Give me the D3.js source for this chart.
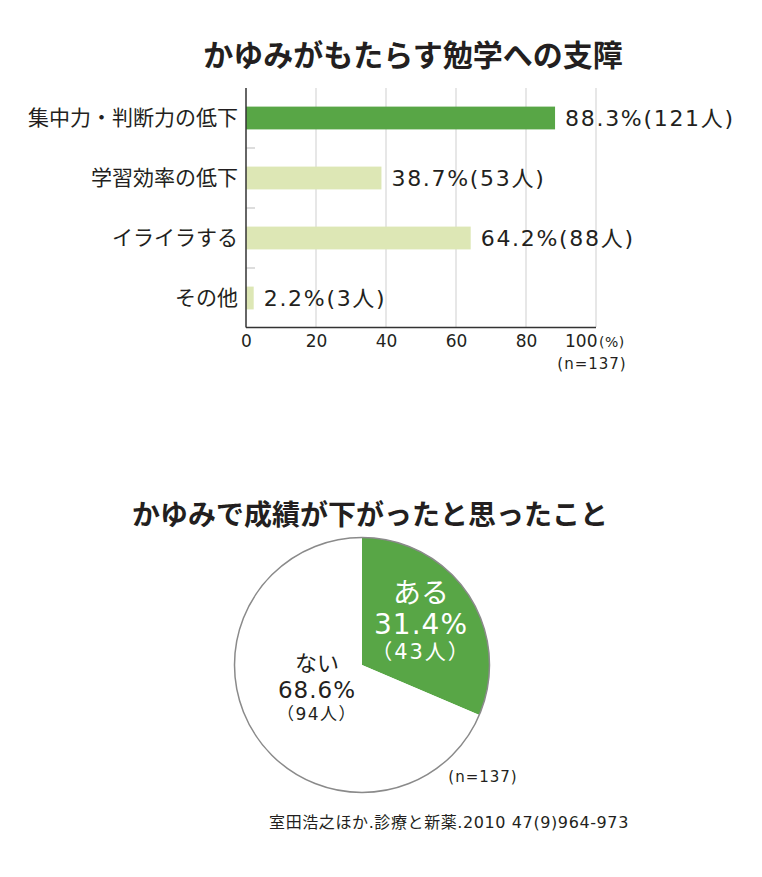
<!DOCTYPE html>
<html>
<head>
<meta charset="utf-8">
<script src="https://cdn.jsdelivr.net/npm/d3@7"></script>
<style>
  html, body { margin: 0; padding: 0; background: #fff; }
  svg text { font-family: "Noto Sans CJK JP", "Noto Sans", sans-serif; fill: #231f20; }
  svg text.num { font-family: "DejaVu Sans", "Noto Sans CJK JP", sans-serif; }
  .title { font-weight: 700; }
  .axis .domain { display: none; }
</style>
</head>
<body>
<svg id="chart" width="762" height="877"></svg>
<script>
// bar chart data
var categories = ["集中力・判断力の低下", "学習効率の低下", "イライラする", "その他"];
var percents = [88.3, 38.7, 64.2, 2.2];
var counts = [121, 53, 88, 3];
var xTicks = [0, 20, 40, 60, 80, 100];

// pie chart data
var pieLabels = ["ある", "ない"];
var piePercents = [31.4, 68.6];
var pieCounts = [43, 94];

var sampleSize = 137;
var source = "室田浩之ほか.診療と新薬.2010 47(9)964-973";

var green = "#58a646",
    lightGreen = "#dde7b5",
    ink = "#231f20";

var svg = d3.select("#chart");

/**
 * Bar chart
 */
var x = d3.scaleLinear().domain([0, 100]).range([246, 596]);
var y = d3.scaleBand().domain(categories).range([88, 328])
    .paddingInner(0.62).paddingOuter(0.31);

svg.append("text")
    .attr("class", "title")
    .attr("x", 413)
    .attr("y", 66)
    .attr("text-anchor", "middle")
    .attr("font-size", 30)
    .text("かゆみがもたらす勉学への支障");

// gridlines
svg.append("g")
    .selectAll("line")
    .data(xTicks.slice(1))
    .join("line")
    .attr("x1", function (d) { return x(d); })
    .attr("x2", function (d) { return x(d); })
    .attr("y1", 88)
    .attr("y2", 327)
    .attr("stroke", "#cfcfcf")
    .attr("stroke-width", 1);

// short separator ticks between categories
svg.append("g")
    .selectAll("line")
    .data(categories.slice(1))
    .join("line")
    .attr("x1", 246)
    .attr("x2", 255)
    .attr("y1", function (d) { return y(d) - y.step() * y.paddingInner() / 2; })
    .attr("y2", function (d) { return y(d) - y.step() * y.paddingInner() / 2; })
    .attr("stroke", "#bbb")
    .attr("stroke-width", 1);

svg.append("g")
    .selectAll("rect")
    .data(categories)
    .join("rect")
    .attr("x", x(0))
    .attr("y", function (d) { return y(d); })
    .attr("width", function (d, i) { return x(percents[i]) - x(0); })
    .attr("height", y.bandwidth())
    .attr("fill", function (d, i) { return i === 0 ? green : lightGreen; });

// axis lines
svg.append("line")
    .attr("x1", x(0)).attr("x2", x(0))
    .attr("y1", 88).attr("y2", 327.5)
    .attr("stroke", "#333").attr("stroke-width", 1.5);
svg.append("line")
    .attr("x1", x(0)).attr("x2", x(100))
    .attr("y1", 327.5).attr("y2", 327.5)
    .attr("stroke", "#333").attr("stroke-width", 1.5);

// category labels
svg.append("g")
    .selectAll("text")
    .data(categories)
    .join("text")
    .attr("x", 238)
    .attr("y", function (d) { return y(d) + y.bandwidth() / 2; })
    .attr("dy", "0.35em")
    .attr("text-anchor", "end")
    .attr("font-size", 21)
    .text(function (d) { return d; });

// value labels
svg.append("g")
    .selectAll("text")
    .data(categories)
    .join("text")
    .attr("class", "num")
    .attr("x", function (d, i) { return x(percents[i]) + 10; })
    .attr("y", function (d) { return y(d) + y.bandwidth() / 2; })
    .attr("dy", "0.36em")
    .attr("font-size", 22)
    .attr("letter-spacing", 1.7)
    .text(function (d, i) { return percents[i].toFixed(1) + "%(" + counts[i] + "人)"; });

// x axis tick labels
var xAxis = d3.axisBottom(x).tickValues(xTicks).tickSize(0).tickPadding(7);
var gx = svg.append("g")
    .attr("class", "axis")
    .attr("transform", "translate(0,328)")
    .call(xAxis);
gx.selectAll("text")
    .attr("class", "num")
    .attr("font-size", 17)
    .attr("fill", ink)
    .style("font-family", '"DejaVu Sans", sans-serif');
// last label sits left of its gridline, leaving room for the unit
gx.selectAll(".tick text")
    .filter(function (d) { return d === 100; })
    .attr("text-anchor", "end")
    .attr("dx", 1);

svg.append("text")
    .attr("class", "num")
    .attr("x", 599)
    .attr("y", 347)
    .attr("font-size", 14)
    .attr("letter-spacing", 0.5)
    .text("(%)");
svg.append("text")
    .attr("class", "num")
    .attr("x", 592)
    .attr("y", 369)
    .attr("text-anchor", "middle")
    .attr("font-size", 15)
    .attr("letter-spacing", 1)
    .text("(n=" + sampleSize + ")");

/**
 * Pie chart
 */
var cx = 362, cy = 665, r = 127.5;

svg.append("text")
    .attr("class", "title")
    .attr("x", 370)
    .attr("y", 525)
    .attr("text-anchor", "middle")
    .attr("font-size", 28)
    .text("かゆみで成績が下がったと思ったこと");

var pie = d3.pie().sort(null).value(function (d) { return d; });
var arc = d3.arc().innerRadius(0).outerRadius(r);
var arcs = pie(piePercents);

var gp = svg.append("g").attr("transform", "translate(" + cx + "," + cy + ")");
gp.selectAll("path")
    .data(arcs)
    .join("path")
    .attr("d", arc)
    .attr("fill", function (d, i) { return i === 0 ? green : "#fff"; })
    .attr("stroke", "none");
gp.append("circle")
    .attr("r", r)
    .attr("fill", "none")
    .attr("stroke", "#8a8a8a")
    .attr("stroke-width", 1.5);

// slice labels
var labelPos = [[59, -72], [-45, -2]];
var sizes = [[28, 28, 21], [22, 23, 17]];
var gaps = [[0, 31, 28], [0, 27, 24]];
var spacing = [[0, 1, 2], [0, 1, 1.5]];
arcs.forEach(function (a, i) {
    var col = i === 0 ? "#fff" : ink;
    var g = gp.append("g")
        .attr("transform", "translate(" + labelPos[i][0] + "," + labelPos[i][1] + ")");
    var lines = [pieLabels[i], piePercents[i].toFixed(1) + "%", "（" + pieCounts[i] + "人）"];
    var yy = 0;
    lines.forEach(function (t, j) {
        yy += gaps[i][j];
        g.append("text")
            .attr("class", j === 0 ? null : "num")
            .attr("y", yy)
            .attr("dy", "0.35em")
            .attr("text-anchor", "middle")
            .attr("font-size", sizes[i][j])
            .attr("letter-spacing", spacing[i][j])
            .style("fill", col)
            .text(t);
    });
});

svg.append("text")
    .attr("class", "num")
    .attr("x", 483)
    .attr("y", 782)
    .attr("text-anchor", "middle")
    .attr("font-size", 15)
    .attr("letter-spacing", 1)
    .text("(n=" + sampleSize + ")");

svg.append("text")
    .attr("class", "num")
    .attr("x", 449)
    .attr("y", 828)
    .attr("text-anchor", "middle")
    .attr("font-size", 16)
    .attr("letter-spacing", 0.6)
    .text(source);
</script>
</body>
</html>
